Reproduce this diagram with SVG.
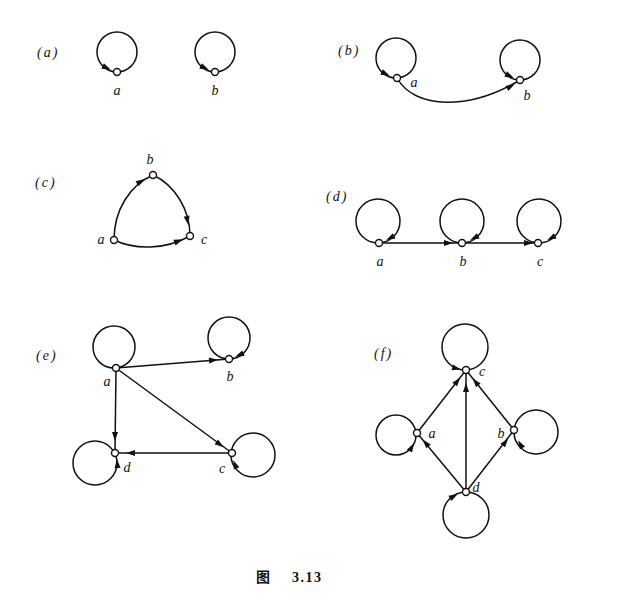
<svg xmlns="http://www.w3.org/2000/svg" xmlns:xlink="http://www.w3.org/1999/xlink" width="617" height="600" viewBox="0 0 617 600">
<style>
.bg{fill:#fff}
.loop,.edge{fill:none;stroke:#111;stroke-width:1.5}
.node{fill:#fff;stroke:#111;stroke-width:1.4}
.lbl{font-family:"Liberation Serif",serif;font-style:italic;font-size:14px;fill:#111;text-anchor:middle}
.pl{font-family:"Liberation Serif",serif;font-style:italic;font-size:14px;fill:#111;letter-spacing:2px}
.cap{font-family:"Liberation Serif","Noto Sans CJK SC",serif;font-weight:bold;font-size:14px;fill:#111;letter-spacing:1.5px}
.ah{fill:#111}
</style>
<defs>
<path id="ah" d="M2,0 L-7,-3 L-7,3 Z"/>
</defs>
<rect class="bg" width="617" height="600"/>

<g id="panel-labels">
<text class="pl" x="37" y="57">(a)</text>
<text class="pl" x="338" y="55">(b)</text>
<text class="pl" x="35" y="187">(c)</text>
<text class="pl" x="326" y="201">(d)</text>
<text class="pl" x="36" y="360">(e)</text>
<text class="pl" x="374" y="358">(f)</text>
</g>

<g id="connectors">
<!-- (a) loops -->
<circle class="loop" cx="117" cy="52" r="20"/>
<use href="#ah" class="ah" transform="translate(109,69) rotate(25)"/>
<circle class="loop" cx="215" cy="52" r="20"/>
<use href="#ah" class="ah" transform="translate(207,69) rotate(25)"/>
<!-- (b) -->
<circle class="loop" cx="396" cy="58" r="20"/>
<use href="#ah" class="ah" transform="translate(388,75) rotate(25)"/>
<circle class="loop" cx="520" cy="60" r="20"/>
<use href="#ah" class="ah" transform="translate(512,77) rotate(25)"/>
<path class="edge" d="M397,78 C415,110 470,110 520,80"/>
<use href="#ah" class="ah" transform="translate(513,85) rotate(-30)"/>
<!-- (c) -->
<path class="edge" d="M114,240 C114,210 130,185 153,175"/>
<use href="#ah" class="ah" transform="translate(143,180) rotate(-32)"/>
<path class="edge" d="M153,175 C175,185 190,210 190,236"/>
<use href="#ah" class="ah" transform="translate(188,223) rotate(78)"/>
<path class="edge" d="M114,240 C135,250 165,250 190,236"/>
<use href="#ah" class="ah" transform="translate(181,240) rotate(-22)"/>
<!-- (d) -->
<circle class="loop" cx="378" cy="221" r="22"/>
<use href="#ah" class="ah" transform="translate(388,239) rotate(153)"/>
<circle class="loop" cx="462" cy="221" r="22"/>
<use href="#ah" class="ah" transform="translate(472,239) rotate(153)"/>
<circle class="loop" cx="539" cy="221" r="22"/>
<use href="#ah" class="ah" transform="translate(549,239) rotate(153)"/>
<path class="edge" d="M379,243 L462,243"/>
<use href="#ah" class="ah" transform="translate(451,243)"/>
<path class="edge" d="M462,243 L538,243"/>
<use href="#ah" class="ah" transform="translate(531,243)"/>
<!-- (e) -->
<circle class="loop" cx="114" cy="347" r="21"/>
<circle class="loop" cx="229" cy="338" r="21"/>
<use href="#ah" class="ah" transform="translate(237,356) rotate(157)"/>
<circle class="loop" cx="95" cy="463" r="22"/>
<use href="#ah" class="ah" transform="translate(117,461) rotate(-95)"/>
<circle class="loop" cx="253" cy="455" r="22"/>
<use href="#ah" class="ah" transform="translate(234,462) rotate(-112)"/>
<path class="edge" d="M116,368 L229,359"/>
<use href="#ah" class="ah" transform="translate(216,360) rotate(-4.6)"/>
<path class="edge" d="M116,368 L115,453"/>
<use href="#ah" class="ah" transform="translate(115,439) rotate(90)"/>
<path class="edge" d="M116,368 L232,453"/>
<use href="#ah" class="ah" transform="translate(222,446) rotate(36.2)"/>
<path class="edge" d="M232,453 L115,453"/>
<use href="#ah" class="ah" transform="translate(128,453) rotate(180)"/>
<!-- (f) -->
<circle class="loop" cx="465" cy="347" r="23"/>
<use href="#ah" class="ah" transform="translate(459,369) rotate(14)"/>
<circle class="loop" cx="396" cy="435" r="20"/>
<use href="#ah" class="ah" transform="translate(413,445) rotate(-60)"/>
<circle class="loop" cx="536" cy="432" r="22"/>
<use href="#ah" class="ah" transform="translate(519,442) rotate(-120)"/>
<circle class="loop" cx="466" cy="515" r="23"/>
<use href="#ah" class="ah" transform="translate(456,495) rotate(-29)"/>
<path class="edge" d="M417,433 L466,370"/>
<use href="#ah" class="ah" transform="translate(459,379) rotate(-52)"/>
<path class="edge" d="M514,430 L466,370"/>
<use href="#ah" class="ah" transform="translate(474,380) rotate(-128.7)"/>
<path class="edge" d="M466,492 L466,370"/>
<use href="#ah" class="ah" transform="translate(466,385) rotate(-90)"/>
<path class="edge" d="M466,492 L417,433"/>
<use href="#ah" class="ah" transform="translate(424,441) rotate(-129.7)"/>
<path class="edge" d="M466,492 L514,430"/>
<use href="#ah" class="ah" transform="translate(507,440) rotate(-52)"/>
</g>

<!-- nodes -->
<g id="a-a"><circle class="node" cx="117" cy="72" r="3.5"/><text class="lbl" x="117" y="95">a</text></g>
<g id="a-b"><circle class="node" cx="215" cy="72" r="3.5"/><text class="lbl" x="215" y="95">b</text></g>

<g id="b-a"><circle class="node" cx="397" cy="78" r="3.5"/><text class="lbl" x="414" y="87">a</text></g>
<g id="b-b"><circle class="node" cx="520" cy="80" r="3.5"/><text class="lbl" x="527" y="100">b</text></g>

<g id="c-a"><circle class="node" cx="114" cy="240" r="3.5"/><text class="lbl" x="101" y="244">a</text></g>
<g id="c-b"><circle class="node" cx="153" cy="175" r="3.5"/><text class="lbl" x="150" y="164">b</text></g>
<g id="c-c"><circle class="node" cx="190" cy="236" r="3.5"/><text class="lbl" x="204" y="244">c</text></g>

<g id="d-a"><circle class="node" cx="379" cy="243" r="3.5"/><text class="lbl" x="380" y="266">a</text></g>
<g id="d-b"><circle class="node" cx="462" cy="243" r="3.5"/><text class="lbl" x="463" y="266">b</text></g>
<g id="d-c"><circle class="node" cx="538" cy="243" r="3.5"/><text class="lbl" x="540" y="266">c</text></g>

<g id="e-a"><circle class="node" cx="116" cy="368" r="3.5"/><text class="lbl" x="107" y="386">a</text></g>
<g id="e-b"><circle class="node" cx="229" cy="359" r="3.5"/><text class="lbl" x="230" y="381">b</text></g>
<g id="e-d"><circle class="node" cx="115" cy="453" r="3.5"/><text class="lbl" x="127" y="472">d</text></g>
<g id="e-c"><circle class="node" cx="232" cy="453" r="3.5"/><text class="lbl" x="222" y="473">c</text></g>

<g id="f-c"><circle class="node" cx="466" cy="370" r="3.5"/><text class="lbl" x="482" y="376">c</text></g>
<g id="f-a"><circle class="node" cx="417" cy="433" r="3.5"/><text class="lbl" x="432" y="438">a</text></g>
<g id="f-b"><circle class="node" cx="514" cy="430" r="3.5"/><text class="lbl" x="501" y="438">b</text></g>
<g id="f-d"><circle class="node" cx="466" cy="492" r="3.5"/><text class="lbl" x="476" y="492">d</text></g>

<g id="caption">
<text class="cap" x="256" y="582">图</text>
<text class="cap" x="292" y="582">3.13</text>
</g>
</svg>
